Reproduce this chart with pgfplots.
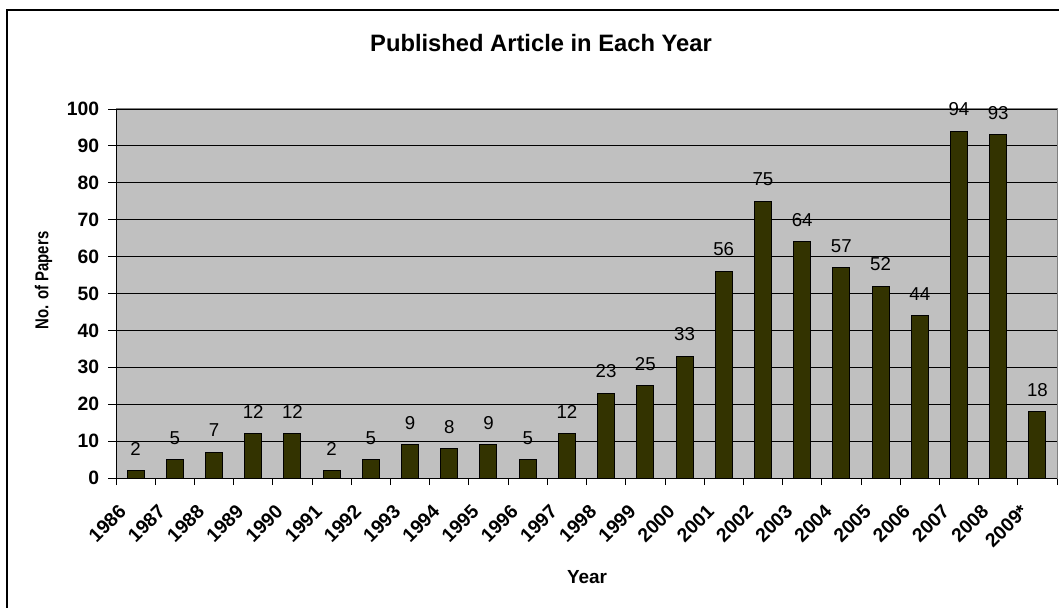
\documentclass[border=0pt]{standalone}
\usepackage{pgfplots}
\pgfplotsset{compat=1.18}
\usepackage{fontspec}
\setmainfont{Liberation Sans}
\definecolor{barfill}{HTML}{333300}
\definecolor{plotbg}{HTML}{C0C0C0}
\definecolor{frameg}{HTML}{808080}
\begin{document}
\begin{tikzpicture}[x=0.75pt,y=0.75pt]
\path[use as bounding box] (0,0) rectangle (1059,607);
% chart frame (left and top edges)
\draw[black, line width=1pt] (7,-20) -- (7,597) -- (1080,597);
% title and axis titles
\node[anchor=base, font=\fontsize{17.8}{20}\selectfont\bfseries] at (541,555.3) {Published Article in Each Year};
\node[anchor=base, font=\fontsize{14.2}{17}\selectfont\bfseries] at (587,23.7) {Year};
\node[anchor=base, rotate=90, font=\fontsize{14}{17}\selectfont\bfseries] at (48.3,326.5) {\scalebox{0.8}[1]{No. of Papers}};
\begin{axis}[
  at={(87pt,96.75pt)}, anchor=south west,
  scale only axis, width=705.75pt, height=276.75pt,
  ybar, bar width=12.75pt,
  xmin=-0.5, xmax=23.5, ymin=0, ymax=100,
  ytick={0,10,...,100},
  xtick={0,...,23},
  xticklabels={1986,1987,1988,1989,1990,1991,1992,1993,1994,1995,1996,1997,1998,1999,2000,2001,2002,2003,2004,2005,2006,2007,2008,2009*},
  minor xtick={-0.5,0.5,...,23.5},
  tick align=outside,
  xtick pos=bottom, ytick pos=left,
  major tick length=6pt,
  minor tick length=5.25pt,
  x tick style={draw=none},
  minor x tick style={draw=black, line width=0.6pt},
  y tick style={draw=black, line width=0.6pt},
  ymajorgrids,
  major grid style={black, line width=0.6pt},
  axis background/.style={fill=plotbg},
  axis line style={frameg, line width=0.75pt},
  /pgf/number format/assume math mode=true,
  yticklabel style={font=\fontsize{14.5}{17}\selectfont\bfseries, inner sep=0pt, anchor=east, xshift=-6.5pt},
  xticklabel style={font=\fontsize{14.5}{17}\selectfont\bfseries, inner sep=0pt, xshift=-13.5pt, yshift=-12.75pt, rotate=45, anchor=north east},
  nodes near coords,
  nodes near coords style={font=\fontsize{14}{16}\selectfont, anchor=base, yshift=11.6pt, black},
]
\addplot[draw=black, fill=barfill, line width=0.75pt] coordinates {
  (0,2) (1,5) (2,7) (3,12) (4,12) (5,2) (6,5) (7,9) (8,8) (9,9) (10,5) (11,12)
  (12,23) (13,25) (14,33) (15,56) (16,75) (17,64) (18,57) (19,52) (20,44) (21,94) (22,93) (23,18)
};
% axis lines on the left and bottom edges
\draw[black, line width=0.75pt] (rel axis cs:0,1) -- (rel axis cs:0,0) -- (rel axis cs:1,0);
\end{axis}
\end{tikzpicture}
\end{document}
